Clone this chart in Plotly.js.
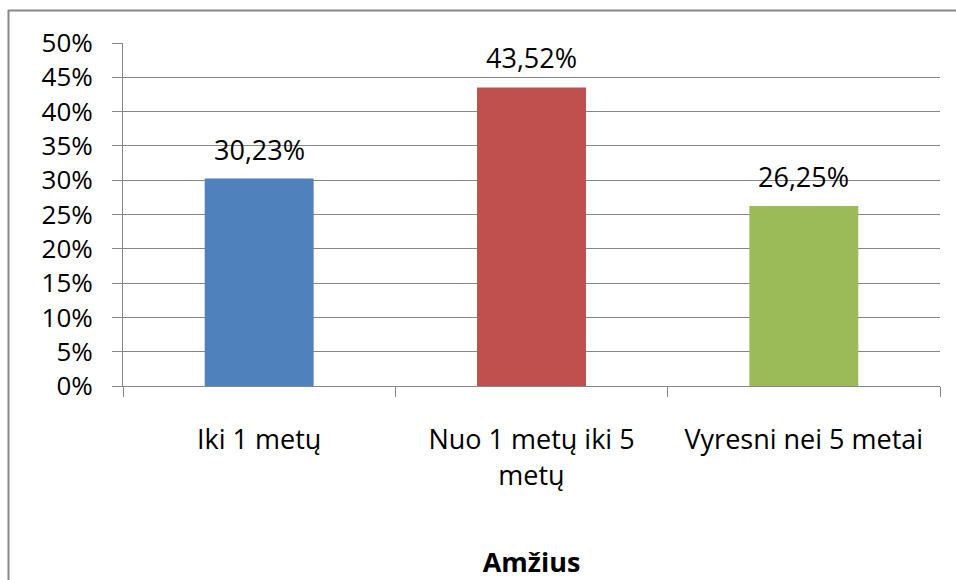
<!DOCTYPE html>
<html>
<head>
<meta charset="utf-8">
<script src="https://cdn.plot.ly/plotly-3.0.1.min.js"></script>
<style>html,body{margin:0;padding:0;background:#fff;}#chart{width:956px;height:580px;}</style>
</head>
<body>
<div id="chart"></div>
<script>
const categories = ["Iki 1 metų", "Nuo 1 metų iki 5<br>metų", "Vyresni nei 5 metai"];
const values = [30.23, 43.52, 26.25];
const labels = ["30,23%", "43,52%", "26,25%"];
const colors = ["#4F81BD", "#C0504D", "#9BBB59"];
const yTickVals = [0, 5, 10, 15, 20, 25, 30, 35, 40, 45, 50];
const yTickText = ["0%", "5%", "10%", "15%", "20%", "25%", "30%", "35%", "40%", "45%", "50%"];

const font = "Open Sans, Noto Sans, Liberation Sans, sans-serif";
const gridColor = "#878787";

const trace = {
  type: "bar",
  x: categories,
  y: values,
  marker: {color: colors},
  hoverinfo: "none"
};

const annotations = categories.map((c, i) => ({
  x: c, y: values[i], xref: "x", yref: "y",
  text: labels[i], showarrow: false,
  xanchor: "center", yanchor: "bottom", yshift: 9,
  font: {family: font, size: 27, color: "#000"}
}));

const layout = {
  width: 956, height: 580,
  margin: {l: 123, r: 16, t: 43, b: 194},
  paper_bgcolor: "#fff", plot_bgcolor: "#fff",
  showlegend: false,
  bargap: 0.6,
  font: {family: font, size: 27, color: "#000"},
  xaxis: {
    type: "category",
    tickson: "boundaries",
    ticks: "outside", ticklen: 10, tickcolor: gridColor, tickwidth: 1,
    ticklabelstandoff: 30,
    showline: true, linecolor: gridColor, linewidth: 1,
    showgrid: false, zeroline: false,
    tickfont: {family: font, size: 27, color: "#000"},
    title: {text: "<b>Amžius</b>", font: {family: font, size: 27, color: "#000"}, standoff: 68},
    automargin: false
  },
  yaxis: {
    range: [0, 50],
    tickvals: yTickVals, ticktext: yTickText,
    ticks: "outside", ticklen: 10, tickcolor: gridColor,
    ticklabelstandoff: 14,
    showgrid: true, gridcolor: gridColor, gridwidth: 1,
    showline: true, linecolor: gridColor, linewidth: 1,
    zeroline: false,
    tickfont: {family: font, size: 26, color: "#000"},
    automargin: false
  },
  annotations: annotations,
  shapes: [
    {type: "line", xref: "paper", yref: "paper", x0: (8 - 123) / 817, x1: (960 - 123) / 817, y0: (386 - 10.5) / 343, y1: (386 - 10.5) / 343, line: {color: "#888", width: 2}},
    {type: "line", xref: "paper", yref: "paper", x0: (8.5 - 123) / 817, x1: (8.5 - 123) / 817, y0: (386 - 10) / 343, y1: (386 - 600) / 343, line: {color: "#888", width: 2}}
  ]
};

Plotly.newPlot("chart", [trace], layout, {displayModeBar: false, staticPlot: true});
</script>
</body>
</html>
